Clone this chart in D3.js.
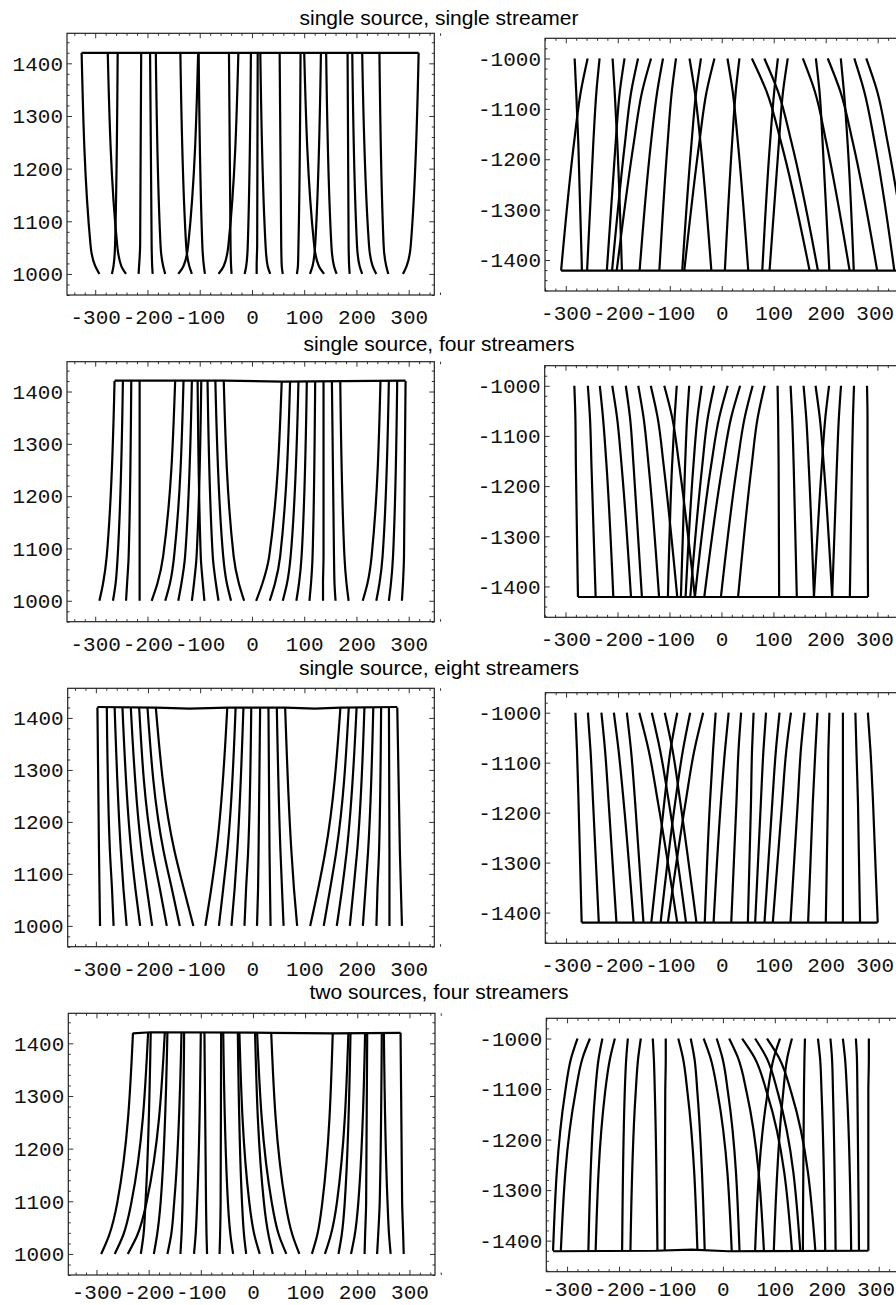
<!DOCTYPE html>
<html>
<head>
<meta charset="utf-8">
<script src="https://cdn.jsdelivr.net/npm/d3@7"></script>
<style>
  body { margin: 0; background: #fff; }
  svg { display: block; }
  .tick text { font-family: "Liberation Mono", "DejaVu Sans Mono", monospace; font-size: 21px; fill: #111; }
  .title { font-family: "Liberation Sans", Arial, sans-serif; font-size: 21px; fill: #000; }
</style>
</head>
<body>
<svg id="chart" width="896" height="1305"></svg>
<script>
// panel titles, one per row
const titles = [
  'single source, single streamer',
  'single source, four streamers',
  'single source, eight streamers',
  'two sources, four streamers'
]

// tick labels
const xTicks = [-300, -200, -100, 0, 100, 200, 300]
const yTicksL = [1000, 1100, 1200, 1300, 1400]
const yTicksR = [-1000, -1100, -1200, -1300, -1400]

// y positions at which every trajectory of a panel is sampled
const levelsL1 = [1000, 1015, 1055, 1420]
const levelsL2 = [1000, 1033, 1085, 1420]
const levelsL3 = [1000, 1070, 1143, 1420]
const levelsL4 = [1000, 1035, 1098, 1420]
const levelsR1 = [-1000, -1065, -1166, -1421]
const levelsR2 = [-1000, -1062, -1160, -1421]
const levelsR3 = [-1000, -1075, -1180, -1420]
const levelsR4 = [-1000, -1038, -1108, -1420]

// trajectories: x at each level of the panel
const curvesL1 = [
  [-292, -300, -309, -326], [-268, -265, -262, -257], [-241, -250, -258, -276],
  [-217, -216, -214, -212], [-190, -191, -192, -195], [-166, -170, -175, -184],
  [-141, -131, -122, -103], [-115, -120, -126, -137], [-90, -92, -95, -102],
  [-64, -54, -45, -26], [-39, -40, -41, -44], [-14, -11, -8, -2],
  [9, 9, 10, 11], [35, 30, 26, 16], [59, 57, 56, 53],
  [86, 88, 89, 93], [111, 116, 121, 132], [138, 128, 119, 100],
  [162, 157, 152, 142], [187, 186, 185, 183], [211, 206, 201, 192],
  [238, 231, 224, 211], [261, 257, 252, 244], [289, 296, 304, 319]
]
const curvesR1 = [
  [-283, -280, -276, -269], [-258, -271, -284, -309], [-235, -241, -247, -259],
  [-210, -206, -201, -192], [-187, -196, -204, -221], [-161, -174, -186, -211],
  [-136, -153, -169, -202], [-113, -124, -136, -158], [-88, -96, -104, -120],
  [-62, -52, -41, -20], [-40, -49, -58, -76], [-14, -29, -43, -72],
  [11, 21, 31, 51], [34, 27, 20, 6], [58, 86, 114, 169],
  [82, 108, 134, 185], [108, 101, 93, 78], [127, 118, 110, 92],
  [156, 179, 201, 246], [181, 188, 194, 207], [204, 228, 252, 299],
  [229, 235, 242, 254], [255, 274, 294, 332], [278, 299, 319, 360]
]
const curvesL2 = [
  [-292, -285, -278, -263], [-266, -261, -257, -247], [-241, -239, -236, -231],
  [-215, -215, -215, -215], [-192, -181, -170, -147], [-166, -157, -149, -131],
  [-141, -135, -128, -115], [-115, -111, -106, -97], [-91, -94, -98, -104],
  [-64, -69, -75, -85], [-40, -48, -55, -70], [-15, -25, -35, -54],
  [8, 20, 33, 57], [34, 44, 54, 73], [59, 67, 74, 89],
  [85, 90, 95, 105], [110, 113, 116, 121], [136, 136, 137, 137],
  [160, 158, 157, 153], [185, 181, 177, 169], [212, 221, 229, 246],
  [238, 244, 250, 262], [262, 266, 270, 278], [287, 289, 291, 294]
]
const curvesR2 = [
  [-283, -281, -280, -276], [-257, -253, -250, -242], [-234, -228, -221, -208],
  [-210, -201, -192, -174], [-184, -176, -169, -153], [-160, -150, -140, -120],
  [-136, -123, -111, -85], [-110, -95, -81, -51], [-86, -90, -95, -103],
  [-62, -66, -70, -78], [-38, -46, -54, -69], [-14, -26, -37, -60],
  [12, -4, -20, -51], [36, 19, 2, -33], [60, 45, 30, -1],
  [83, 70, 58, 32], [108, 109, 110, 111], [133, 136, 139, 145],
  [158, 163, 168, 178], [181, 189, 197, 213], [207, 200, 193, 178],
  [230, 226, 222, 213], [255, 253, 251, 247], [280, 281, 281, 282]
]
const curvesL3 = [
  [-292, -293, -294, -297], [-266, -269, -273, -279], [-241, -247, -252, -264],
  [-215, -224, -232, -249], [-192, -202, -212, -233], [-164, -177, -191, -217],
  [-139, -154, -170, -201], [-113, -131, -149, -185], [-90, -79, -69, -48],
  [-64, -56, -48, -32], [-40, -34, -29, -17], [-15, -12, -8, -2],
  [9, 11, 12, 15], [35, 34, 33, 31], [60, 57, 54, 47],
  [86, 80, 75, 63], [111, 126, 140, 169], [137, 149, 161, 185],
  [162, 172, 181, 200], [187, 194, 201, 215], [212, 217, 222, 232],
  [238, 240, 243, 247], [263, 263, 263, 262], [287, 285, 283, 278]
]
const curvesR3 = [
  [-282, -279, -276, -270], [-258, -253, -248, -237], [-232, -225, -218, -203],
  [-208, -199, -189, -170], [-183, -175, -167, -151], [-159, -141, -123, -86],
  [-135, -119, -102, -69], [-110, -95, -80, -49], [-86, -99, -111, -136],
  [-61, -75, -90, -118], [-36, -53, -70, -104], [-12, -17, -23, -33],
  [13, 6, -2, -16], [37, 32, 28, 18], [61, 58, 56, 50],
  [85, 80, 75, 64], [111, 104, 97, 82], [133, 124, 116, 98],
  [159, 152, 146, 132], [184, 180, 175, 166], [207, 205, 204, 200],
  [233, 233, 233, 233], [257, 259, 262, 266], [281, 286, 291, 300]
]
const curvesL4 = [
  [-291, -276, -260, -230], [-265, -249, -233, -201], [-240, -222, -204, -169],
  [-215, -210, -206, -196], [-190, -184, -177, -164], [-164, -157, -151, -137],
  [-139, -137, -135, -132], [-113, -110, -107, -100], [-88, -89, -90, -93],
  [-64, -63, -62, -61], [-38, -43, -48, -57], [-13, -17, -21, -29],
  [13, 3, -7, -26], [38, 30, 21, 4], [64, 50, 36, 8],
  [89, 76, 62, 35], [113, 123, 133, 153], [138, 149, 161, 183],
  [164, 170, 176, 187], [188, 195, 202, 215], [214, 215, 217, 219],
  [238, 240, 243, 247], [264, 261, 258, 251], [289, 288, 286, 283]
]
const curvesR4 = [
  [-280, -292, -304, -327], [-256, -270, -284, -312], [-232, -239, -246, -259],
  [-208, -217, -227, -245], [-183, -186, -189, -194], [-158, -163, -168, -178],
  [-135, -133, -131, -126], [-110, -110, -111, -112], [-86, -77, -68, -49],
  [-62, -55, -49, -35], [-37, -24, -10, 17], [-12, -1, 10, 32],
  [12, 29, 46, 79], [37, 61, 85, 133], [62, 84, 106, 149],
  [85, 108, 132, 178], [110, 98, 86, 62], [133, 124, 116, 98],
  [158, 157, 156, 154], [183, 187, 190, 197], [207, 210, 212, 217],
  [231, 235, 239, 247], [256, 258, 259, 262], [281, 281, 280, 280]
]

// the line joining the trajectory ends at the far plane
const rimL1 = [[-326, 1420], [319, 1420]]
const rimL2 = [[-263, 1421], [-54, 1421], [57, 1419], [294, 1421]]
const rimL3 = [[-297, 1421], [-185, 1420], [-120, 1418], [-48, 1420], [63, 1420], [120, 1418], [169, 1420], [278, 1421]]
const rimL4 = [[-230, 1419], [-196, 1421], [35, 1420], [153, 1419], [283, 1420]]
const rimR1 = [[-309, -1421], [360, -1421]]
const rimR2 = [[-276, -1421], [282, -1421]]
const rimR3 = [[-270, -1420], [300, -1420]]
const rimR4 = [[-327, -1421], [-130, -1420], [-60, -1418], [10, -1421], [280, -1420]]

const panels = [
  [{ levels: levelsL1, curves: curvesL1, rim: rimL1 }, { levels: levelsR1, curves: curvesR1, rim: rimR1 }],
  [{ levels: levelsL2, curves: curvesL2, rim: rimL2 }, { levels: levelsR2, curves: curvesR2, rim: rimR2 }],
  [{ levels: levelsL3, curves: curvesL3, rim: rimL3 }, { levels: levelsR3, curves: curvesR3, rim: rimR3 }],
  [{ levels: levelsL4, curves: curvesL4, rim: rimL4 }, { levels: levelsR4, curves: curvesR4, rim: rimR4 }]
]

// frame boxes [x0, x1, y0, y1] per row, and gap from frame to x labels
const layout = [
  { titleY: 24.5, pad: 14, L: [67, 434.3, 33.3, 295], R: [545, 912, 38.3, 291] },
  { titleY: 350.7, pad: 14, L: [67, 434.3, 361.7, 621.7], R: [544.7, 911.7, 365.7, 617.3] },
  { titleY: 675, pad: 14, L: [67.7, 434.3, 688.3, 946.7], R: [545.3, 912, 692.7, 943.3] },
  { titleY: 999.3, pad: 9, L: [68.3, 435, 1013.3, 1275], R: [546.3, 913, 1018.3, 1271.7] }
]

const svg = d3.select('#chart')

function drawPanel(box, side, panel, pad) {
  const [x0, x1, y0, y1] = box
  const x = d3.scaleLinear()
    .domain(side === 'L' ? [-354, 349] : [-340, 366])
    .range([x0, x1])
  const y = d3.scaleLinear()
    .domain(side === 'L' ? [960, 1457] : [-1461.5, -960])
    .range([y1, y0])
  const yTicks = side === 'L' ? yTicksL : yTicksR

  const g = svg.append('g')

  // ticks point inward on all four sides, minor ones every 20 units
  const minorX = d3.range(-340, 361, 20).filter(v => v % 100 !== 0)
  const minorY = d3.range(Math.ceil(y.domain()[0] / 20) * 20, y.domain()[1], 20).filter(v => v % 100 !== 0)
  const axes = [
    [d3.axisBottom(x), `translate(0,${y1})`, minorX, xTicks, pad],
    [d3.axisTop(x), `translate(0,${y0})`, minorX, xTicks, null],
    [d3.axisLeft(y), `translate(${x0},0)`, minorY, yTicks, 4],
    [d3.axisRight(y), `translate(${x1},0)`, minorY, yTicks, null]
  ]
  axes.forEach(([ax, tr, minor, major, padding]) => {
    g.append('g').attr('transform', tr)
      .call(ax.tickValues(minor).tickSize(-2.5).tickFormat(''))
      .call(s => s.select('.domain').remove())
      .attr('color', '#333')
    g.append('g').attr('transform', tr)
      .call(ax.tickValues(major).tickSize(-5).tickPadding(padding || 0)
        .tickFormat(padding === null ? '' : d => String(d)))
      .call(s => s.select('.domain').remove())
      .attr('color', '#333')
  })

  // the right panels run past the page edge; keep their last label on the page
  if (side === 'R') {
    g.selectAll('.tick text').filter(d => d === 300).attr('dx', -3)
  }

  g.append('rect')
    .attr('x', x0).attr('y', y0)
    .attr('width', x1 - x0).attr('height', y1 - y0)
    .attr('fill', 'none').attr('stroke', '#222').attr('stroke-width', 1.2)

  const line = d3.line()
    .x(d => x(d[0])).y(d => y(d[1]))
    .curve(d3.curveMonotoneY)

  g.selectAll('path.traj').data(panel.curves).join('path')
    .attr('class', 'traj')
    .attr('d', c => line(c.map((v, i) => [v, panel.levels[i]]).sort((a, b) => y(a[1]) - y(b[1]))))
    .attr('fill', 'none').attr('stroke', '#000').attr('stroke-width', 2.2)

  g.append('path')
    .attr('d', d3.line().x(d => x(d[0])).y(d => y(d[1]))(panel.rim))
    .attr('fill', 'none').attr('stroke', '#000').attr('stroke-width', 2.2)
}

layout.forEach((row, i) => {
  svg.append('text').attr('class', 'title')
    .attr('x', 439).attr('y', row.titleY)
    .attr('text-anchor', 'middle')
    .text(titles[i])
  drawPanel(row.L, 'L', panels[i][0], row.pad)
  drawPanel(row.R, 'R', panels[i][1], row.pad)
})
</script>
</body>
</html>
